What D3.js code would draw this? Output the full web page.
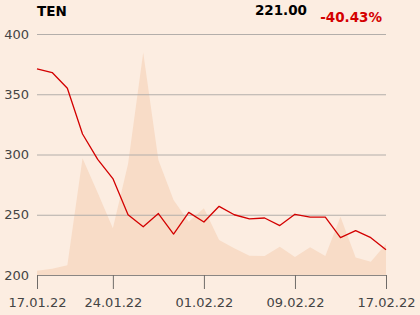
<!DOCTYPE html>
<html><head><meta charset="utf-8">
<script src="https://cdn.jsdelivr.net/npm/d3@7"></script>
<style>
html,body{margin:0;padding:0;background:#fcede1;}
svg{display:block;font-family:"DejaVu Sans",sans-serif;}
</style></head>
<body><svg id="c" width="420" height="315"></svg>
<script>
const dates = ["17.01.22","18.01.22","19.01.22","20.01.22","21.01.22","24.01.22","25.01.22","26.01.22","27.01.22","28.01.22","31.01.22","01.02.22","02.02.22","03.02.22","04.02.22","07.02.22","08.02.22","09.02.22","10.02.22","11.02.22","14.02.22","15.02.22","16.02.22","17.02.22"];
const prices = [371,368,355,317,296,280,250,240,251,234,252,244,257,250,246.5,247.3,241,250.4,248,248,231,236.8,231,221];
const volumes = [18,26,40,484,341,194,461,923,477,311,221,277,145,111,80,79,117,75,115,79,242,73,55,129];
const yTicks = [200,250,300,350,400];
const xTickLabels = ["17.01.22","24.01.22","01.02.22","09.02.22","17.02.22"];
const title = "TEN", lastLabel = "221.00", changeLabel = "-40.43%";

const svg = d3.select("#c");
const L = 37, R = 386, T = 34, B = 275;
const x = d3.scaleLinear().domain([0, dates.length-1]).range([L, R]);
const y = d3.scaleLinear().domain([200, 400]).range([B, T]);
const yv = d3.scaleLinear().domain([0, 1000]).range([B, T]);

// volume area
svg.append("path").datum(volumes)
  .attr("d", d3.area().x((d,i)=>x(i)).y0(B).y1(d=>yv(d)))
  .attr("fill", "#f8dcc7");

// grid + y labels
const yAxis = d3.axisLeft(y).tickValues(yTicks).tickSize(-(R-L)).tickPadding(8);
const gy = svg.append("g").attr("transform", `translate(${L},0)`).call(yAxis);
gy.select(".domain").remove();
gy.selectAll(".tick line").attr("stroke", "#b3aeaa").attr("stroke-width", 1);
gy.selectAll(".tick text").attr("fill", "#444").attr("font-size", 13).attr("font-family","DejaVu Sans, sans-serif");

// x axis
const tickIdx = xTickLabels.map(l => dates.indexOf(l));
const xAxis = d3.axisBottom(x).tickValues(tickIdx).tickFormat(i => dates[i]).tickSize(14).tickSizeOuter(0).tickPadding(9);
const gx = svg.append("g").attr("transform", `translate(0,${B})`).call(xAxis);
gx.select(".domain").attr("stroke", "#8a8683");
gx.selectAll(".tick line").attr("stroke", "#6f6b68");
gx.selectAll(".tick text").attr("fill", "#444").attr("font-size", 13).attr("font-family","DejaVu Sans, sans-serif");

// price line
svg.append("path").datum(prices)
  .attr("d", d3.line().x((d,i)=>x(i)).y(d=>y(d)))
  .attr("fill", "none").attr("stroke", "#d30000").attr("stroke-width", 1.3).attr("stroke-linejoin","round");

// header
svg.append("text").attr("x", 37).attr("y", 15.5).attr("font-weight", "bold").attr("font-size", 13.5).attr("fill", "#000").text(title);
svg.append("text").attr("x", 307).attr("y", 14.5).attr("text-anchor","end").attr("font-weight", "bold").attr("font-size", 13.5).attr("fill", "#000").text(lastLabel);
svg.append("text").attr("x", 382).attr("y", 21.5).attr("text-anchor","end").attr("font-weight", "bold").attr("font-size", 13.5).attr("fill", "#d40000").text(changeLabel);
</script></body></html>
